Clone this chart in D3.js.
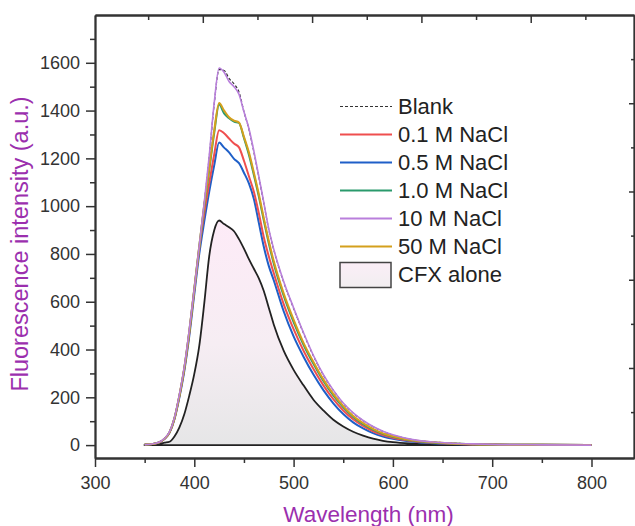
<!DOCTYPE html>
<html>
<head>
<meta charset="utf-8">
<script src="https://cdn.jsdelivr.net/npm/d3@7"></script>
<style>
  body { margin: 0; background: #fff; }
  text { font-family: "Liberation Sans", Arial, sans-serif; }
</style>
</head>
<body>
<svg id="chart" width="635" height="526"></svg>
<script>
// Emission spectra of CFX with and without NaCl
const wavelengths = [350,360,365,370,375,380,385,390,395,400,405,410,415,420,425,430,435,440,445,450,
  455,460,465,470,475,480,490,500,510,520,530,540,550,560,570,580,590,600,620,640,660,680,700,750,800];

const blank = [2,7,13,28,55,114,210,328,482,653,830,1010,1205,1425,1572,1568,1535,1512,1478,1395,
  1322,1226,1122,1012,902,818,682,572,468,373,293,229,175,134,102,77,57,42,22,13,8,5,3,1,0];
const nacl01 = [2,6,12,26,52,110,205,320,470,648,822,970,1095,1215,1318,1305,1283,1262,1246,1190,
  1125,1060,970,870,790,720,590,485,395,318,250,192,145,108,80,58,42,31,17,10,6,3,2,1,0];
const nacl05 = [2,6,12,26,51,108,200,312,458,632,800,935,1060,1170,1266,1245,1225,1198,1180,1140,
  1095,1030,930,830,750,690,560,455,370,295,230,175,130,95,70,50,36,26,14,8,5,3,2,1,0];
const nacl10 = [2,6,12,27,53,112,207,323,476,653,830,1000,1150,1305,1425,1388,1368,1354,1348,1285,
  1215,1130,1040,940,845,760,625,515,420,340,268,208,158,118,88,65,47,35,19,11,7,4,2,1,0];
const nacl10M = [2,7,13,28,55,115,212,330,485,655,835,1015,1210,1430,1578,1560,1522,1500,1468,1395,
  1325,1230,1125,1015,905,820,685,575,470,375,295,230,176,135,103,78,58,43,23,13,8,5,3,1,0];
const nacl50M = [2,6,12,27,53,112,208,325,478,655,833,1005,1160,1315,1432,1400,1372,1358,1350,1290,
  1225,1140,1050,950,855,770,635,525,428,348,275,214,163,122,92,68,49,37,20,12,7,4,2,1,0];
const cfxAlone = [1,3,6,10,14,36,74,130,208,298,415,592,790,898,940,925,912,895,862,822,
  778,738,698,645,575,505,395,315,250,190,145,106,78,56,40,27,18,12,6,3,2,1,1,0,0];

const legendLabels = ["Blank","0.1 M NaCl","0.5 M NaCl","1.0 M NaCl","10 M NaCl","50 M NaCl","CFX alone"];
const xTicks = [300,400,500,600,700,800];
const yTicks = [0,200,400,600,800,1000,1200,1400,1600];

// drawing order: later entries sit on top
const lineSeries = [
  { label: legendLabels[0], values: blank,   color: "#333333", width: 1.2, dash: "3,2" },
  { label: legendLabels[2], values: nacl05,  color: "#1f5fc8", width: 2.0 },
  { label: legendLabels[1], values: nacl01,  color: "#ef4f4f", width: 2.0 },
  { label: legendLabels[3], values: nacl10,  color: "#2a9a6c", width: 2.0 },
  { label: legendLabels[5], values: nacl50M, color: "#d4a01c", width: 2.0 },
  { label: legendLabels[4], values: nacl10M, color: "#b97fdc", width: 1.6 }
];

const svg = d3.select("#chart");
const plotL = 95, plotR = 634, plotT = 15, plotB = 458;

const x = d3.scaleLinear().domain([300, 842.8]).range([plotL, plotR]);
const y = d3.scaleLinear().domain([-54, 1800]).range([plotB, plotT]);
// secondary scales for the decorative top and right axes
const xTop = d3.scaleLinear().domain([0.0137, 4.945]).range([plotL, plotR]);
const yRight = d3.scaleLinear().domain([-0.02, 5.0]).range([plotB, plotT]);

const defs = svg.append("defs");
const grad = defs.append("linearGradient").attr("id", "cfxFill")
  .attr("gradientUnits", "userSpaceOnUse")
  .attr("x1", 0).attr("x2", 0).attr("y1", y(940)).attr("y2", y(0));
grad.append("stop").attr("offset", "0%").attr("stop-color", "#fdebf7");
grad.append("stop").attr("offset", "55%").attr("stop-color", "#f6edf3");
grad.append("stop").attr("offset", "100%").attr("stop-color", "#e6e6e7");

const legGrad = defs.append("linearGradient").attr("id", "legFill")
  .attr("x1", 0).attr("x2", 0).attr("y1", 0).attr("y2", 1);
legGrad.append("stop").attr("offset", "0%").attr("stop-color", "#fbeef7");
legGrad.append("stop").attr("offset", "100%").attr("stop-color", "#f1eef0");

const pts = vals => wavelengths.map((w, i) => [w, vals[i]]);

// CFX alone: filled area with outline
const area = d3.area().x(d => x(d[0])).y0(y(0)).y1(d => y(d[1])).curve(d3.curveMonotoneX);
svg.append("path").datum(pts(cfxAlone)).attr("d", area)
  .attr("fill", "url(#cfxFill)").attr("stroke", "#222").attr("stroke-width", 1.8);

const line = d3.line().x(d => x(d[0])).y(d => y(d[1])).curve(d3.curveMonotoneX);
lineSeries.forEach(s => {
  svg.append("path").datum(pts(s.values)).attr("d", line)
    .attr("fill", "none").attr("stroke", s.color).attr("stroke-width", s.width)
    .attr("stroke-dasharray", s.dash || null).attr("stroke-linejoin", "round");
});

// Axes
const axisColor = "#333";
function styleAxis(g, showLabels) {
  g.select(".domain").attr("stroke", axisColor).attr("stroke-width", 1.8);
  g.selectAll(".tick line").attr("stroke", axisColor).attr("stroke-width", 1.5);
  g.selectAll(".tick text").attr("fill", "#333").attr("font-size", 18)
    .attr("font-family", '"Liberation Sans", Arial, sans-serif');
  if (!showLabels) g.selectAll(".tick text").remove();
}

// bottom
svg.append("g").attr("transform", `translate(0,${plotB})`)
  .call(d3.axisBottom(x).tickValues([350,450,550,650,750]).tickSize(5).tickSizeOuter(0).tickFormat(""))
  .call(g => styleAxis(g, false));
svg.append("g").attr("transform", `translate(0,${plotB})`)
  .call(d3.axisBottom(x).tickValues(xTicks).tickSize(9).tickSizeOuter(0).tickPadding(9))
  .call(g => styleAxis(g, true));

// left
svg.append("g").attr("transform", `translate(${plotL},0)`)
  .call(d3.axisLeft(y).tickValues([100,300,500,700,900,1100,1300,1500,1700]).tickSize(5).tickSizeOuter(0).tickFormat(""))
  .call(g => styleAxis(g, false));
svg.append("g").attr("transform", `translate(${plotL},0)`)
  .call(d3.axisLeft(y).tickValues(yTicks).tickSize(9).tickSizeOuter(0).tickPadding(6).tickFormat(d3.format("d")))
  .call(g => styleAxis(g, true));

// top (ticks inward)
svg.append("g").attr("transform", `translate(0,${plotT})`)
  .call(d3.axisTop(xTop).tickValues([0.5,1.5,2.5,3.5,4.5]).tickSize(-5).tickSizeOuter(0).tickFormat(""))
  .call(g => styleAxis(g, false));
svg.append("g").attr("transform", `translate(0,${plotT})`)
  .call(d3.axisTop(xTop).tickValues([1,2,3,4]).tickSize(-8).tickSizeOuter(0).tickFormat(""))
  .call(g => styleAxis(g, false));

// right (ticks inward)
svg.append("g").attr("transform", `translate(${plotR},0)`)
  .call(d3.axisRight(yRight).tickValues([0.5,1.5,2.5,3.5,4.5]).tickSize(-3).tickSizeOuter(0).tickFormat(""))
  .call(g => styleAxis(g, false));
svg.append("g").attr("transform", `translate(${plotR},0)`)
  .call(d3.axisRight(yRight).tickValues([1,2,3,4]).tickSize(-5).tickSizeOuter(0).tickFormat(""))
  .call(g => styleAxis(g, false));

// Axis titles
const titleColor = "#9b2fae";
svg.append("text").attr("x", (plotL + plotR) / 2 + 4).attr("y", 522)
  .attr("text-anchor", "middle").attr("fill", titleColor).attr("font-size", 22.5)
  .text("Wavelength (nm)");
svg.append("text").attr("transform", `translate(28,244) rotate(-90)`)
  .attr("text-anchor", "middle").attr("fill", titleColor).attr("font-size", 23.5)
  .text("Fluorescence intensity (a.u.)");

// Legend
const legend = svg.append("g");
const legX0 = 340, legX1 = 392, legY0 = 106.5, legStep = 28;
const legendItems = [
  { color: "#333", dash: "3,2", width: 1.2 },
  { color: "#ef4f4f", width: 2 },
  { color: "#1f5fc8", width: 2 },
  { color: "#2a9a6c", width: 2 },
  { color: "#b97fdc", width: 2 },
  { color: "#d4a01c", width: 2 },
  { box: true }
];
legendItems.forEach((it, i) => {
  const cy = legY0 + i * legStep;
  if (it.box) {
    legend.append("rect").attr("x", legX0).attr("y", cy - 12).attr("width", legX1 - legX0 - 1).attr("height", 25)
      .attr("fill", "url(#legFill)").attr("stroke", "#444").attr("stroke-width", 1.5);
  } else {
    legend.append("line").attr("x1", legX0).attr("x2", legX1).attr("y1", cy).attr("y2", cy)
      .attr("stroke", it.color).attr("stroke-width", it.width)
      .attr("stroke-dasharray", it.dash || null);
  }
  legend.append("text").attr("x", 398).attr("y", cy).attr("dy", "0.36em")
    .attr("font-size", 22).attr("fill", "#222").text(legendLabels[i]);
});
</script>
</body>
</html>
